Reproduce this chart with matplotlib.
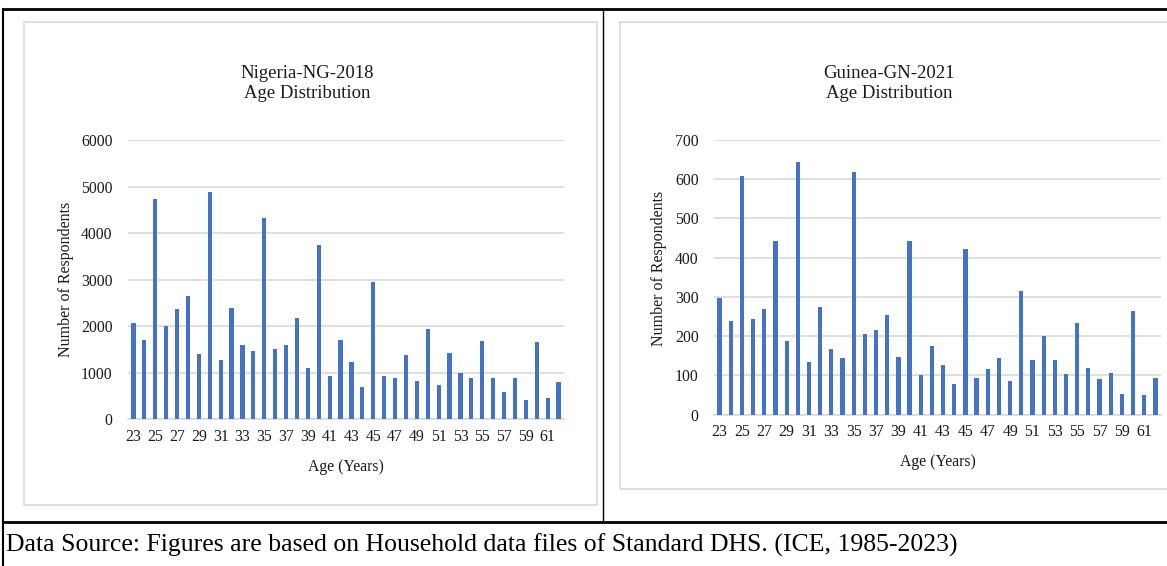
import matplotlib
matplotlib.use("Agg")
import matplotlib.pyplot as plt
from matplotlib.patches import Rectangle
from matplotlib.lines import Line2D

plt.rcParams['font.family'] = ['Liberation Serif', 'DejaVu Serif']

ages = list(range(23, 63))
tick_labels = [str(a) for a in range(23, 62, 2)]

nigeria = [2060, 1710, 4740, 2010, 2370, 2650, 1410, 4890, 1270, 2400,
           1590, 1460, 4320, 1510, 1590, 2180, 1110, 3740, 940, 1700,
           1240, 690, 2950, 940, 880, 1390, 830, 1940, 740, 1430,
           1000, 890, 1680, 880, 590, 880, 410, 1660, 450, 800]

guinea = [298, 240, 608, 243, 269, 443, 189, 644, 135, 275,
          167, 144, 619, 206, 215, 255, 148, 443, 100, 174,
          127, 78, 422, 93, 117, 144, 86, 316, 139, 201,
          139, 104, 233, 119, 91, 107, 52, 263, 50, 94]

W, H = 1167, 566
fig = plt.figure(figsize=(W / 100, H / 100), dpi=100)


def px(x0, y0, x1, y1):
    return [x0 / W, 1 - y1 / H, (x1 - x0) / W, (y1 - y0) / H]


def fline(xs, ys, lw, color='black'):
    fig.add_artist(Line2D([x / W for x in xs], [1 - y / H for y in ys],
                          lw=lw, color=color, transform=fig.transFigure))


def fbox(x0, y0, x1, y1):
    fig.add_artist(Rectangle((x0 / W, 1 - y1 / H), (x1 - x0) / W, (y1 - y0) / H,
                             fill=False, edgecolor='#d9d9d9', lw=1.2,
                             transform=fig.transFigure))


# table lines
fline([3, 1167], [9, 9], 2)
fline([3, 3], [9, 566], 1.5)
fline([603, 603], [9, 522], 1)
fline([3, 1167], [522, 522], 2)

# chart boxes
fbox(24, 22, 597, 505)
fbox(620, 22, 1180, 489)

BAR = '#4472C4'
GRID = '#d9d9d9'
TXT = '#1a1a1a'


def panel(rect, values, ymax, step, title, tx, ylab_x, ylab_y):
    ax = fig.add_axes(rect)
    x = list(range(len(ages)))
    ax.bar(x, values, width=0.38, color=BAR, zorder=3)
    ax.set_xlim(-0.5, len(ages) - 0.5)
    ax.set_ylim(0, ymax)
    ax.set_yticks(list(range(0, ymax + 1, step)))
    ax.set_xticks(list(range(0, len(ages), 2)))
    ax.set_xticklabels(tick_labels)
    ax.tick_params(length=0, labelsize=11.3, colors=TXT, pad=7)
    ax.tick_params(axis='y', pad=11)
    ax.grid(axis='y', color=GRID, lw=1.2, zorder=0)
    for s in ['top', 'right', 'left']:
        ax.spines[s].set_visible(False)
    ax.spines['bottom'].set_color(GRID)
    ax.spines['bottom'].set_linewidth(1.2)
    ax.set_xlabel('Age (Years)', fontsize=11.3, labelpad=10, color=TXT)
    fig.text(ylab_x / W, 1 - ylab_y / H, 'Number of Respondents', rotation=90,
             ha='center', va='center', fontsize=11.5, color=TXT)
    fig.text(tx / W, 1 - 73 / H, title, ha='center', va='center',
             fontsize=13.5, color=TXT)
    fig.text(tx / W, 1 - 93 / H, 'Age Distribution', ha='center', va='center',
             fontsize=13.5, color=TXT)
    return ax


panel(px(128, 140.2, 564, 419.3), nigeria, 6000, 1000, 'Nigeria-NG-2018',
      307, 66, 279)
panel(px(714, 140, 1161, 414.7), guinea, 700, 100, 'Guinea-GN-2021',
      889, 659, 268)

fig.text(6 / W, 1 - 545 / H,
         'Data Source: Figures are based on Household data files of Standard DHS. (ICE, 1985-2023)',
         ha='left', va='center', fontsize=18.5, color='black')

fig.savefig('out.png', dpi=100)
